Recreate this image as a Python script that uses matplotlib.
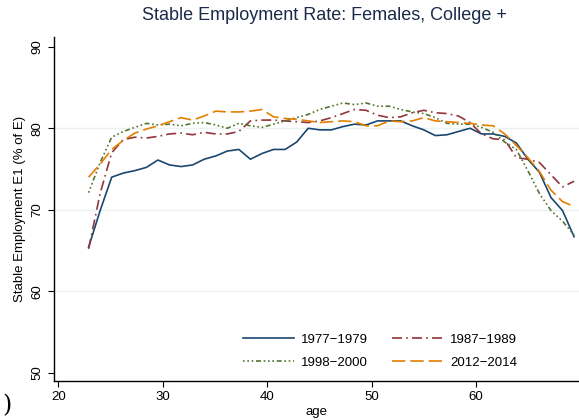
import matplotlib
matplotlib.use("Agg")
import matplotlib.pyplot as plt
import numpy as np

plt.rcParams['font.family'] = ['Liberation Sans', 'DejaVu Sans']

# x positions of the 43 points as they fall on the drawn age axis
age = np.linspace(22.9, 69.4, 43)

emp_1977 = [65.4, 69.9, 74.0, 74.5, 74.8, 75.2, 76.1, 75.5, 75.3, 75.5,
            76.2, 76.6, 77.2, 77.4, 76.2, 76.9, 77.4, 77.4, 78.3, 80.0,
            79.8, 79.8, 80.2, 80.5, 80.4, 80.9, 80.9, 80.9, 80.3, 79.8,
            79.1, 79.2, 79.6, 80.0, 79.3, 79.3, 79.0, 78.2, 76.2, 74.6,
            71.5, 69.9, 66.7]
emp_1987 = [65.2, 72.0, 77.0, 78.6, 78.9, 78.8, 79.0, 79.3, 79.4, 79.2,
            79.5, 79.3, 79.3, 79.6, 80.9, 81.0, 81.0, 80.9, 80.8, 80.7,
            80.9, 81.3, 81.8, 82.3, 82.2, 81.6, 81.3, 81.4, 81.9, 82.2,
            81.9, 81.8, 81.5, 80.7, 79.3, 78.7, 78.6, 76.4, 76.2, 75.8,
            74.3, 72.8, 73.5]
emp_1998 = [72.1, 75.8, 78.9, 79.6, 80.1, 80.6, 80.4, 80.5, 80.3, 80.6,
            80.7, 80.4, 80.0, 80.6, 80.3, 80.1, 80.5, 80.9, 81.3, 81.7,
            82.3, 82.7, 83.1, 82.9, 83.1, 82.7, 82.7, 82.3, 82.0, 81.8,
            81.3, 80.6, 80.5, 80.5, 80.1, 79.5, 78.3, 77.4, 74.8, 72.0,
            69.9, 68.6, 66.9]
emp_2012 = [74.0, 75.6, 77.4, 78.5, 79.4, 79.9, 80.3, 80.8, 81.3, 81.0,
            81.5, 82.1, 82.0, 82.0, 82.1, 82.3, 81.4, 81.2, 81.1, 80.9,
            80.7, 80.8, 80.9, 80.8, 80.3, 80.3, 80.9, 80.8, 80.9, 81.3,
            80.9, 80.8, 80.7, 80.6, 80.4, 80.3, 79.3, 77.9, 76.4, 74.7,
            72.4, 71.0, 70.4]

labels = ['1977\u22121979', '1987\u22121989', '1998\u22122000', '2012\u22122014']
colors = ['#1a476f', '#90353b', '#55752f', '#e37e00']
styles = ['-', (0, (6, 2.5, 1, 2.5)), (0, (1, 1.6, 1, 1.6, 1, 1.6, 3, 1.6)), (0, (8, 3))]

fig = plt.figure(figsize=(5.79, 4.2), dpi=100)
ax = fig.add_axes([0.0933, 0.0929, 0.9067, 0.8182])

series = [emp_1977, emp_1987, emp_1998, emp_2012]
lines = []
for y, lab, c, ls in zip(series, labels, colors, styles):
    ln, = ax.plot(age, y, color=c, linestyle=ls, linewidth=1.2, label=lab)
    lines.append(ln)

ax.set_xlim(19.59, 69.87)
ax.set_ylim(49.0, 91.15)
ax.set_xticks([20, 30, 40, 50, 60])
ax.set_yticks([50, 60, 70, 80, 90])
for g in [60, 70, 80]:
    ax.axhline(g, color='#eaf2f3', linewidth=1.0, zorder=0)

for side in ['top', 'right']:
    ax.spines[side].set_visible(False)
ax.spines['left'].set_linewidth(1.0)
ax.spines['bottom'].set_linewidth(1.0)
ax.tick_params(direction='out', length=4, width=0.8, labelsize=9.5)
for t in ax.get_yticklabels():
    t.set_rotation(90)
    t.set_va('center')

ax.set_xlabel('age', fontsize=9.5, labelpad=2)
ax.set_ylabel('Stable Employment E1 (% of E)', fontsize=9.5, labelpad=4)
fig.text(0.561, 0.962, 'Stable Employment Rate: Females, College +',
         ha='center', va='center', fontsize=13, color='#1a2a4a')

# row-wise order: 1977, 1987 on top; 1998, 2012 below
order = [0, 2, 1, 3]
ax.legend([lines[i] for i in order], [labels[i] for i in order],
          loc='lower right', ncol=2, frameon=False, fontsize=9.5,
          handlelength=3.8, columnspacing=1.8, handletextpad=0.6,
          labelspacing=0.85, bbox_to_anchor=(0.905, 0.0))

fig.text(0.004, 0.035, ')', fontsize=17, family='DejaVu Serif', va='center')

fig.savefig('out.png', dpi=100)
